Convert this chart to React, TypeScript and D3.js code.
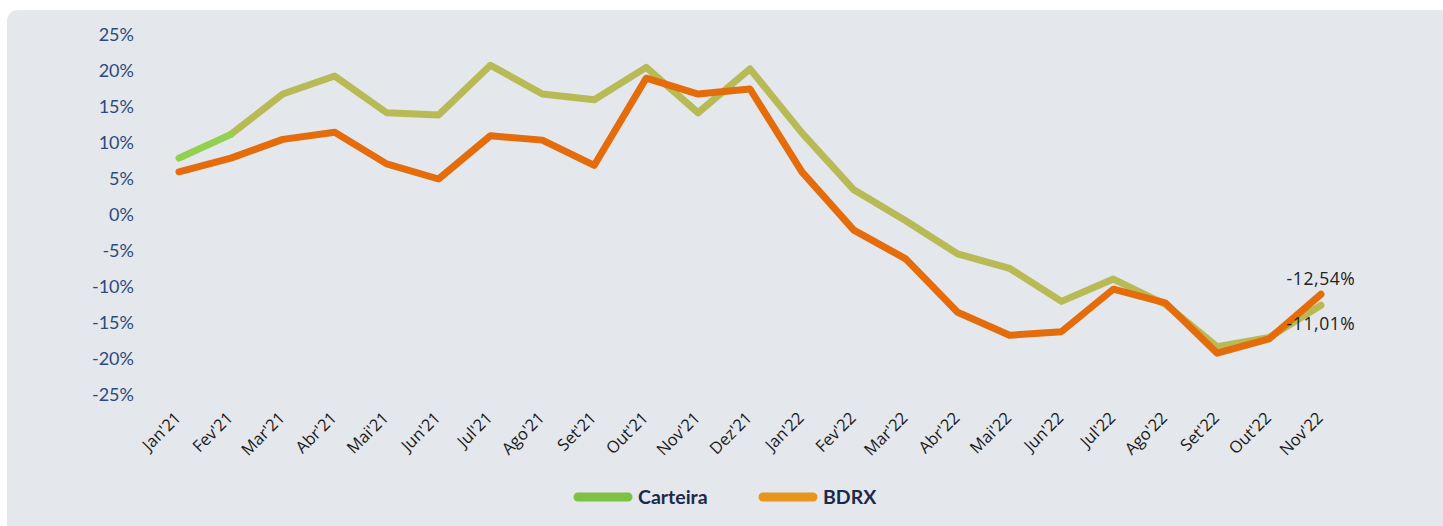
import React from "react";
import * as d3 from "d3";

const months = ["Jan'21","Fev'21","Mar'21","Abr'21","Mai'21","Jun'21","Jul'21","Ago'21","Set'21","Out'21","Nov'21","Dez'21","Jan'22","Fev'22","Mar'22","Abr'22","Mai'22","Jun'22","Jul'22","Ago'22","Set'22","Out'22","Nov'22"];
const carteira = [7.9,11.2,16.8,19.3,14.2,13.9,20.8,16.8,16.0,20.5,14.2,20.3,11.4,3.5,-0.8,-5.4,-7.4,-12.0,-8.9,-12.4,-18.3,-17.0,-12.54];
const bdrx = [6.0,7.9,10.5,11.5,7.1,5.0,11.0,10.4,6.9,19.0,16.8,17.5,6.0,-2.1,-6.1,-13.5,-16.7,-16.2,-10.3,-12.2,-19.2,-17.2,-11.01];
const yTicks = [25,20,15,10,5,0,-5,-10,-15,-20,-25];
const seriesNames = ["Carteira","BDRX"];

export default function App() {
  const W = 1443, H = 526;
  const x = d3.scalePoint<string>().domain(months).range([179, 1321]);
  const y = d3.scaleLinear().domain([-25, 25]).range([395, 35]);
  const line = d3.line<number>().x((_, i) => x(months[i])!).y(d => y(d));
  const lineRest = d3.line<number>().x((_, i) => x(months[i + 1])!).y(d => y(d));
  const last = months.length - 1;
  const fmt = (v: number) => v.toFixed(2).replace(".", ",") + "%";
  return (
    <svg width={W} height={H} style={{ position: "absolute", left: 0, top: 0 }} fontFamily="Lato, 'Noto Sans', sans-serif">
      <rect x={7} y={10} width={W + 20} height={H + 20} rx={11} fill="#e4e7ec" />
      {yTicks.map(t => (
        <text key={t} x={134} y={y(t)} dy="0.35em" textAnchor="end" fontSize={18} fill="#2e4a7d">{t}%</text>
      ))}
      {months.map(m => (
        <text key={m} transform={`translate(${x(m)! + 3},${419}) rotate(-45)`} textAnchor="end" fontSize={16.5} fontFamily="'Open Sans', sans-serif" fill="#1a1a1a">{m}</text>
      ))}
      <path d={lineRest(carteira.slice(1)) as string} fill="none" stroke="#b8bb55" strokeWidth={7} strokeLinejoin="round" strokeLinecap="round" />
      <path d={line(carteira.slice(0, 2)) as string} fill="none" stroke="#92d050" strokeWidth={7} strokeLinejoin="round" strokeLinecap="round" />
      <path d={line(bdrx) as string} fill="none" stroke="#e56c0a" strokeWidth={7} strokeLinejoin="round" strokeLinecap="round" />
      <text x={x(months[last])!} y={279} dy="0.35em" textAnchor="middle" fontSize={17.5} letterSpacing={0.6} fontFamily="'Open Sans', sans-serif" fill="#222">{fmt(carteira[last])}</text>
      <text x={x(months[last])!} y={324} dy="0.35em" textAnchor="middle" fontSize={17.5} letterSpacing={0.6} fontFamily="'Open Sans', sans-serif" fill="#222">{fmt(bdrx[last])}</text>
      <g>
        <line x1={578} x2={628} y1={497} y2={497} stroke="#7dc242" strokeWidth={9} strokeLinecap="round" />
        <text x={638} y={497} dy="0.35em" fontSize={19.5} fontWeight="bold" fill="#1b2a4a">{seriesNames[0]}</text>
        <line x1={763} x2={813} y1={497} y2={497} stroke="#e8951f" strokeWidth={9} strokeLinecap="round" />
        <text x={823} y={497} dy="0.35em" fontSize={19.5} fontWeight="bold" fill="#1b2a4a">{seriesNames[1]}</text>
      </g>
    </svg>
  );
}
